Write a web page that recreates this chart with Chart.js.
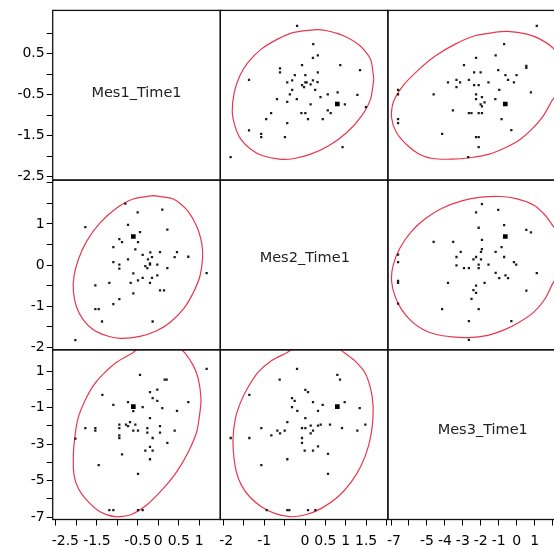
<!DOCTYPE html>
<html><head><meta charset="utf-8">
<script src="https://cdn.jsdelivr.net/npm/chart.js@4.4.1/dist/chart.umd.min.js"></script>
<style>html,body{margin:0;padding:0;overflow:hidden;background:#fff}</style>
</head><body>
<canvas id="c" width="560" height="549"></canvas>
<script>
// ---------- variables ----------
const variableNames = ['Mes1_Time1', 'Mes2_Time1', 'Mes3_Time1'];

// ---------- tick values and labels ----------
const ticksMes1 = [-2.5, -2, -1.5, -1, -0.5, 0, 0.5, 1];
const ticksMes2 = [-2, -1.5, -1, -0.5, 0, 0.5, 1, 1.5, 2];
const ticksMes3x = [-7, -6, -5, -4, -3, -2, -1, 0, 1, 2];
const ticksMes3y = [-7, -6, -5, -4, -3, -2, -1, 0, 1];
const xLabelsMes1 = [-2.5, -1.5, -0.5, 0, 0.5, 1];
const xLabelsMes2 = [-2, -1, 0, 0.5, 1, 1.5];
const xLabelsMes3 = [-7, -5, -4, -3, -2, -1, 0, 1];
const yLabelsMes1 = [0.5, -0.5, -1.5, -2.5];
const yLabelsMes2 = [1, 0, -1, -2];
const yLabelsMes3 = [1, -1, -3, -5, -7];

// ---------- pair: Mes1 vs Mes2 ----------
const m12_mes1 = [-0.805,-0.504,0.098,-1.782,-0.740,-0.447,0.221,-0.952,-0.886,-0.496,-1.098,-0.561,-0.382,-0.195,0.042,0.457,0.400,0.733,-0.740,-0.252,-0.154,-1.098,-0.952,-0.952,-0.203,-0.203,-0.317,-0.268,-0.024,0.221,1.181,-0.610,-0.024,-0.382,-0.154,-0.496,-0.675,-0.203,-1.538,-1.196,0.042,0.139,-0.610,-0.952,-1.098,-1.538,-1.456,-1.375,-0.138,-2.026];
const m12_mes2 = [1.495,1.285,1.350,0.921,0.978,0.800,0.865,0.630,0.558,0.558,0.436,0.380,0.250,0.307,0.315,0.315,0.194,0.202,0.137,0.137,0.194,0.073,0.008,-0.089,0.040,0.008,-0.024,-0.073,0.008,-0.073,-0.194,-0.202,-0.250,-0.315,-0.315,-0.372,-0.436,-0.436,-0.493,-0.436,-0.614,-0.614,-0.687,-0.832,-0.953,-1.075,-1.075,-1.374,-1.374,-1.826];

// ---------- pair: Mes1 vs Mes3 ----------
const m13_mes1 = [1.181,-0.447,0.156,0.204,-1.367,-0.203,-0.024,-0.138,-0.024,-1.098,-0.740,-0.610,-0.382,0.098,0.733,0.457,-0.203,-0.691,-0.789,-0.740,-0.952,-0.561,-0.952,0.042,-0.268,-0.610,-0.496,-1.782,-1.538,-1.538,-0.268,0.042,0.400,-0.952,-0.952,-2.026,-0.138,0.221,-0.203,-0.317,-0.138,-0.886,-0.203,-1.456,-0.496,-1.196,-1.098,-0.496,-0.382];
const m13_mes3 = [1.119,0.792,0.537,0.537,-0.299,-0.154,-0.008,-0.481,-0.626,-0.845,-0.699,-1.190,-0.972,-1.027,-0.699,-1.172,-1.572,-1.791,-1.936,-2.009,-1.936,-1.936,-2.118,-2.009,-2.118,-2.263,-2.263,-2.118,-2.118,-2.263,-2.372,-2.372,-2.263,-2.518,-2.663,-2.699,-2.663,-2.936,-3.154,-3.354,-3.354,-3.554,-3.827,-4.154,-4.627,-6.609,-6.609,-6.609,-6.609];

// ---------- pair: Mes2 vs Mes3 ----------
const m23_mes2 = [-0.196,-0.622,0.793,0.859,0.008,0.074,-1.366,-0.319,-0.254,0.196,0.434,0.973,-0.319,-0.188,0.319,1.342,0.008,-0.434,-1.072,-0.074,0.008,0.139,0.319,0.385,0.613,0.908,1.481,-0.679,-0.499,-0.613,-0.826,0.196,0.139,1.284,-1.824,-1.366,-0.074,-0.074,0.319,-0.008,0.196,0.564,-0.434,-1.072,0.564,-0.941,-0.434,-0.385,0.074,0.254];
const m23_mes3 = [1.119,0.537,0.792,0.537,-0.026,-0.154,-0.299,-0.481,-0.626,-0.699,-0.845,-0.699,-0.972,-1.172,-1.172,-1.027,-1.572,-1.791,-2.118,-2.118,-2.118,-1.990,-1.990,-1.936,-1.936,-2.118,-1.936,-2.263,-2.263,-2.409,-2.518,-2.263,-2.409,-2.263,-2.663,-2.663,-2.663,-2.936,-3.118,-3.354,-3.354,-3.536,-3.827,-4.154,-4.627,-6.609,-6.609,-6.609,-6.609,-6.609];

// ---------- highlighted marker (per variable, as x / as y) ----------
const markAsX = [-0.61, 0.793, -0.635];
const markAsY = [-0.729, 0.696, -0.944];

// ---------- density ellipse outlines ----------
const e12_mes1 = [-0.121,0.367,0.693,0.937,1.059,1.083,1.018,0.855,0.611,0.286,-0.040,-0.447,-0.919,-1.261,-1.587,-1.831,-1.993,-2.075,-2.059,-1.953,-1.749,-1.424,-1.017,-0.610,-0.121];
const e12_mes2 = [1.689,1.608,1.350,0.945,0.541,0.218,-0.267,-0.671,-1.075,-1.398,-1.600,-1.737,-1.786,-1.721,-1.576,-1.333,-1.034,-0.630,-0.267,0.137,0.582,1.026,1.390,1.608,1.689];
const e13_mes1 = [-0.626,-1.017,-1.342,-1.587,-1.790,-1.953,-2.034,-2.075,-2.059,-1.953,-1.749,-1.424,-1.057,-0.691,-0.284,0.123,0.449,0.733,0.937,1.018,1.043,0.978,0.855,0.652,0.35,0.0,-0.35,-0.626];
const e13_mes3 = [1.992,1.483,0.847,0.210,-0.608,-1.518,-2.518,-3.609,-4.700,-5.427,-6.064,-6.701,-6.973,-6.882,-6.337,-5.427,-4.518,-3.427,-2.336,-1.245,-0.517,0.574,1.301,1.992,2.55,2.75,2.5,1.992];
const e23_mes2 = [-0.458,-0.826,-1.153,-1.399,-1.579,-1.710,-1.767,-1.750,-1.685,-1.562,-1.358,-1.072,-0.744,-0.376,-0.008,0.401,0.810,1.137,1.382,1.562,1.652,1.669,1.611,1.464,1.219,0.973,0.7,0.3,-0.1,-0.458];
const e23_mes3 = [1.992,1.574,0.937,0.119,-0.699,-1.608,-2.699,-3.609,-4.518,-5.245,-5.882,-6.428,-6.791,-6.973,-6.882,-6.518,-5.882,-5.064,-4.154,-3.063,-1.972,-0.881,0.028,0.937,1.574,1.992,2.45,2.75,2.5,1.992];

// ---------- assemble ----------
const pairs = {
  '0-1': {pts: [m12_mes1, m12_mes2], ell: [e12_mes1, e12_mes2]},
  '0-2': {pts: [m13_mes1, m13_mes3], ell: [e13_mes1, e13_mes3]},
  '1-2': {pts: [m23_mes2, m23_mes3], ell: [e23_mes2, e23_mes3]}
};
const xTickSets = [ticksMes1, ticksMes2, ticksMes3x];
const yTickSets = [ticksMes1, ticksMes2, ticksMes3y];
const xLabelSets = [xLabelsMes1, xLabelsMes2, xLabelsMes3];
const yLabelSets = [yLabelsMes1, yLabelsMes2, yLabelsMes3];

// axis bounds (layout of the reference)
const xBounds = [[-2.58, 1.515], [-2.079, 2.034], [-7.175, 2.162]];
const yBounds = [[-2.586, 1.556], [-2.063, 2.068], [-7.128, 2.169]];
const titlePos = [[0.5, 0.49], [0.504, 0.458], [0.566, 0.475]];

function zip(a, b) { return a.map((v, i) => ({x: v, y: b[i]})); }
function getPair(cv, rv) {
  const k = Math.min(cv, rv) + '-' + Math.max(cv, rv);
  const p = pairs[k];
  const swap = cv > rv;
  return {
    pts: swap ? zip(p.pts[1], p.pts[0]) : zip(p.pts[0], p.pts[1]),
    ell: swap ? zip(p.ell[1], p.ell[0]) : zip(p.ell[0], p.ell[1])
  };
}

const pointSets = [], ellSets = [], markSets = [];
for (let r = 0; r < 3; r++) {
  for (let c = 0; c < 3; c++) {
    if (r === c) continue;
    const d = getPair(c, r);
    pointSets.push({type: 'scatter', data: d.pts, xAxisID: 'x' + c, yAxisID: 'y' + r,
      pointStyle: 'rect', pointRadius: 1.6, pointBorderWidth: 0, backgroundColor: '#1a1a1a', clip: false});
    markSets.push({type: 'scatter', data: [{x: markAsX[c], y: markAsY[r]}], xAxisID: 'x' + c, yAxisID: 'y' + r,
      pointStyle: 'rect', pointRadius: 3.3, pointBorderWidth: 0, backgroundColor: '#000', clip: false});
    ellSets.push({type: 'scatter', data: d.ell, xAxisID: 'x' + c, yAxisID: 'y' + r, showLine: true,
      pointRadius: 0, borderColor: '#e8374c', borderWidth: 1.2, tension: 0.25, fill: false, clip: false});
  }
}
const datasets = [...markSets, ...pointSets, ...ellSets];

const tickFont = {family: 'DejaVu Sans', size: 14};
const scales = {};
for (let i = 0; i < 3; i++) {
  scales['x' + i] = {
    type: 'linear', position: 'bottom', stack: 'cols', min: xBounds[i][0], max: xBounds[i][1],
    afterBuildTicks: s => { s.ticks = xTickSets[i].map(v => ({value: v})); },
    afterFit: s => { s.height = 29.5; },
    grid: {display: true, drawOnChartArea: false, drawTicks: true, tickLength: 6, tickColor: '#000', color: '#000', lineWidth: 1},
    border: {display: false},
    ticks: {display: false}
  };
  scales['y' + i] = {
    type: 'linear', position: 'left', stack: 'rows', weight: 2 - i, min: yBounds[i][0], max: yBounds[i][1],
    afterBuildTicks: s => { s.ticks = yTickSets[i].map(v => ({value: v})); },
    afterFit: s => { s.width = 52.7; },
    grid: {display: true, drawOnChartArea: false, drawTicks: true, tickLength: 6, tickColor: '#000', color: '#000', lineWidth: 1},
    border: {display: false},
    ticks: {autoSkip: false, padding: 2, color: '#000', font: tickFont,
      callback: v => yLabelSets[i].includes(v) ? String(v) : ''}
  };
}

const spmPlugin = {
  id: 'spm',
  beforeDatasetDraw(chart, args) {
    const xs = args.meta.xScale, ys = args.meta.yScale, ctx = chart.ctx;
    ctx.save(); ctx.beginPath();
    ctx.rect(xs.left, ys.top, xs.right - xs.left, ys.bottom - ys.top);
    ctx.clip();
  },
  afterDatasetDraw(chart) { chart.ctx.restore(); },
  afterDraw(chart) {
    const ctx = chart.ctx;
    ctx.save();
    ctx.strokeStyle = '#111'; ctx.lineWidth = 1.3;
    for (let r = 0; r < 3; r++) for (let c = 0; c < 3; c++) {
      const xs = chart.scales['x' + c], ys = chart.scales['y' + r];
      ctx.strokeRect(xs.left, ys.top, xs.right - xs.left, ys.bottom - ys.top);
    }
    ctx.fillStyle = '#222'; ctx.font = '14.5px "DejaVu Sans"';
    ctx.textAlign = 'center'; ctx.textBaseline = 'middle';
    for (let i = 0; i < 3; i++) {
      const xs = chart.scales['x' + i], ys = chart.scales['y' + i];
      ctx.fillText(variableNames[i], xs.left + (xs.right - xs.left) * titlePos[i][0], ys.top + (ys.bottom - ys.top) * titlePos[i][1]);
    }
    ctx.fillStyle = '#000'; ctx.font = tickFont.size + 'px "DejaVu Sans"'; ctx.textAlign = 'left';
    for (let c = 0; c < 3; c++) {
      const s = chart.scales['x' + c];
      xLabelSets[c].forEach((v, k) => {
        const t = String(v), w = ctx.measureText(t).width;
        let px = s.getPixelForValue(v) - w / 2;
        if (k === 0) px = Math.max(px, s.left - 1);
        ctx.fillText(t, px, s.top + 21.5);
      });
    }
    ctx.restore();
  }
};

new Chart(document.getElementById('c'), {
  type: 'scatter',
  data: {datasets},
  options: {
    responsive: false, animation: false, events: [],
    layout: {padding: {left: 0, top: 8.3, right: 4.5, bottom: 0}},
    plugins: {legend: {display: false}, tooltip: {enabled: false}},
    scales
  },
  plugins: [spmPlugin]
});
</script>
</body></html>
